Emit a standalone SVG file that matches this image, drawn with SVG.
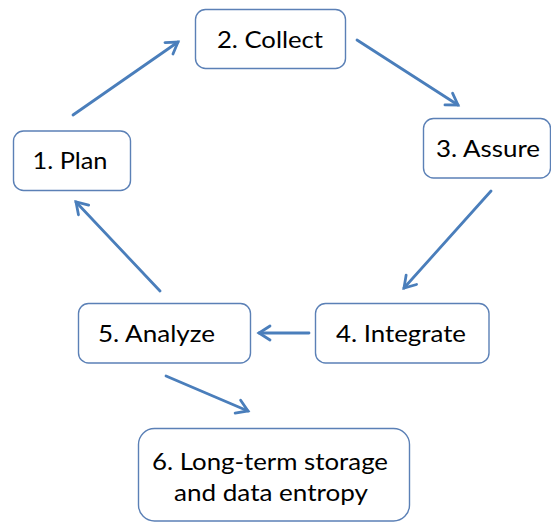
<svg xmlns="http://www.w3.org/2000/svg" width="551" height="523" viewBox="0 0 551 523">
  <style>
    .box { fill: #ffffff; stroke: #5b80b6; stroke-width: 1.4; }
    .lbl { font-family: Lato, "Open Sans", "Liberation Sans", sans-serif; font-size: 23px; fill: #000000; text-anchor: middle; }
    .conn { stroke: #4a7ebb; stroke-width: 2.8; fill: none; stroke-linecap: round; }
  </style>
  <defs>
    <marker id="arr" markerUnits="userSpaceOnUse" markerWidth="20" markerHeight="20" viewBox="-14 -10 18 20" refX="0" refY="0" orient="auto">
      <path d="M-11,-7 L0,0 L-11,7" fill="none" stroke="#4a7ebb" stroke-width="2.8" stroke-linecap="round" stroke-linejoin="miter"/>
    </marker>
  </defs>
  <rect width="551" height="523" fill="#ffffff"/>
  <g id="connectors">
    <line class="conn" x1="73" y1="115" x2="178" y2="42" marker-end="url(#arr)"/>
    <line class="conn" x1="357" y1="40" x2="458" y2="105" marker-end="url(#arr)"/>
    <line class="conn" x1="491" y1="191" x2="404" y2="288" marker-end="url(#arr)"/>
    <line class="conn" x1="309" y1="333" x2="259" y2="333" marker-end="url(#arr)"/>
    <line class="conn" x1="160" y1="291" x2="76" y2="202" marker-end="url(#arr)"/>
    <line class="conn" x1="166" y1="376" x2="248" y2="411" marker-end="url(#arr)"/>
  </g>
  <g id="node1">
    <rect class="box" x="13.5" y="131" width="117" height="59.5" rx="10"/>
    <text class="lbl" x="70" y="169" textLength="75" lengthAdjust="spacingAndGlyphs">1. Plan</text>
  </g>
  <g id="node2">
    <rect class="box" x="195.5" y="9.5" width="150" height="59" rx="10"/>
    <text class="lbl" x="270" y="48" textLength="106" lengthAdjust="spacingAndGlyphs">2. Collect</text>
  </g>
  <g id="node3">
    <rect class="box" x="423.5" y="118.5" width="127" height="59.5" rx="10"/>
    <text class="lbl" x="488" y="157" textLength="104" lengthAdjust="spacingAndGlyphs">3. Assure</text>
  </g>
  <g id="node4">
    <rect class="box" x="315.5" y="303.5" width="173.5" height="59.5" rx="10"/>
    <text class="lbl" x="401" y="342" textLength="130" lengthAdjust="spacingAndGlyphs">4. Integrate</text>
  </g>
  <g id="node5">
    <rect class="box" x="78.5" y="303.5" width="172" height="59.5" rx="10"/>
    <text class="lbl" x="156.5" y="342" textLength="117" lengthAdjust="spacingAndGlyphs">5. Analyze</text>
  </g>
  <g id="node6">
    <rect class="box" x="138.5" y="428.5" width="271" height="92.5" rx="16"/>
    <text class="lbl" x="270" y="470" textLength="236" lengthAdjust="spacingAndGlyphs">6. Long-term storage</text>
    <text class="lbl" x="271" y="501" textLength="194" lengthAdjust="spacingAndGlyphs">and data entropy</text>
  </g>
</svg>
